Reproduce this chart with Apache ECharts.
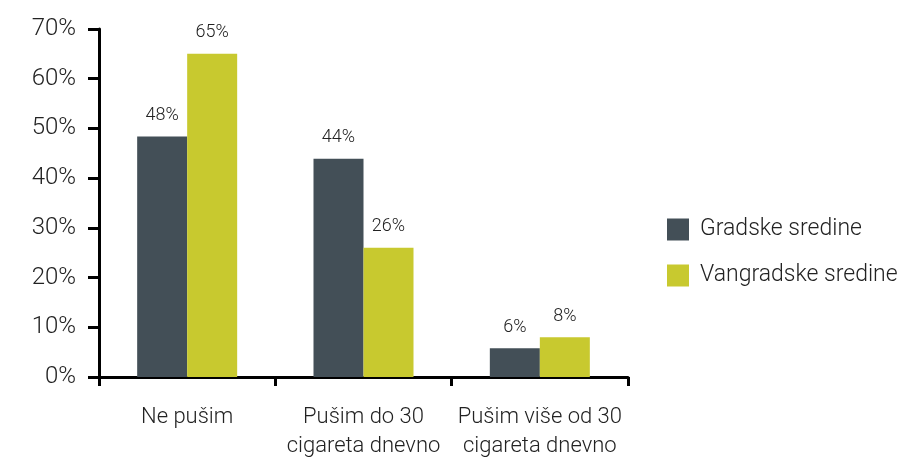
<!DOCTYPE html>
<html>
<head>
<meta charset="utf-8">
<script src="https://cdn.jsdelivr.net/npm/echarts@6/dist/echarts.min.js"></script>
<style>
  html, body { margin: 0; padding: 0; background: #fff; }
  #chart { width: 900px; height: 463px; }
</style>
</head>
<body>
<div id="chart"></div>
<script>
// podaci
var categories = ['Ne pušim', 'Pušim do 30\ncigareta dnevno', 'Pušim više od 30\ncigareta dnevno'];
var gradske = [48.4, 43.9, 5.8];
var vangradske = [65, 26, 8];
var yTicks = [0, 10, 20, 30, 40, 50, 60, 70];

var font = 'Roboto';
var textColor = '#222';

var chart = echarts.init(document.getElementById('chart'));

var labelCfg = {
  show: true,
  position: 'top',
  distance: 12,
  color: textColor,
  fontFamily: font,
  fontWeight: 300,
  fontSize: 18,
  formatter: function (p) { return Math.round(p.value) + '%'; }
};

var option = {
  animation: false,
  grid: { left: 99, top: 29, width: 529, height: 348 },
  legend: {
    orient: 'vertical',
    left: 662,
    top: 213,
    itemWidth: 22,
    itemHeight: 22,
    itemGap: 23,
    icon: 'rect',
    textStyle: { color: textColor, fontFamily: font, fontWeight: 300, fontSize: 23, padding: [0, 0, 0, 6] },
    data: ['Gradske sredine', 'Vangradske sredine']
  },
  xAxis: {
    type: 'category',
    data: categories,
    axisLine: { lineStyle: { color: '#000', width: 3 } },
    axisTick: { show: true, length: 9, lineStyle: { color: '#000', width: 3 } },
    axisLabel: { interval: 0, color: textColor, fontFamily: font, fontWeight: 300, fontSize: 22, lineHeight: 29, margin: 26 }
  },
  yAxis: {
    type: 'value',
    min: yTicks[0],
    max: yTicks[yTicks.length - 1],
    interval: 10,
    splitLine: { show: false },
    axisLine: { show: true, lineStyle: { color: '#000', width: 3 } },
    axisTick: { show: true, length: 11, lineStyle: { color: '#000', width: 3 } },
    axisLabel: { color: textColor, fontFamily: font, fontWeight: 300, fontSize: 24, margin: 23, formatter: '{value}%' }
  },
  series: [
    {
      name: 'Gradske sredine',
      type: 'bar',
      data: gradske,
      barWidth: 50,
      barGap: 0,
      itemStyle: { color: '#434f57' },
      label: labelCfg
    },
    {
      name: 'Vangradske sredine',
      type: 'bar',
      data: vangradske,
      barWidth: 50,
      barGap: 0,
      itemStyle: { color: '#c8c92f' },
      label: labelCfg
    }
  ]
};

chart.setOption(option);
</script>
</body>
</html>
